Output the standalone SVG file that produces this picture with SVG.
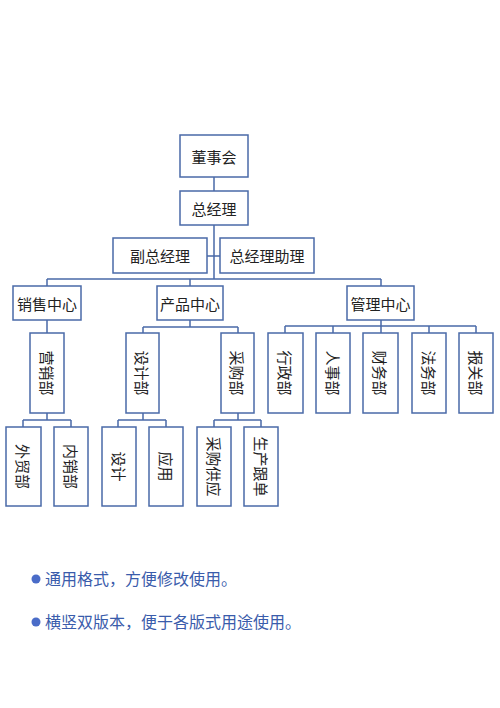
<svg xmlns="http://www.w3.org/2000/svg" width="500" height="708" viewBox="0 0 500 708">
<style>
.b{fill:#fff;stroke:#4a6aa8;stroke-width:1.5}
.t{font-family:"Noto Sans CJK SC",sans-serif;font-size:15px;fill:#222;text-anchor:middle;dominant-baseline:central}
.c{fill:none;stroke:#4a6aa8;stroke-width:1.5}
.n{font-family:"Noto Sans CJK SC",sans-serif;font-size:16px;fill:#3a5cab}
</style>
<rect width="500" height="708" fill="#fff"/>
<g id="connectors" class="c">
<path d="M214 177V191M214 225V279M207 256H220M47 279H381M47 279V286M190 279V286M381 279V286"/>
<path d="M47 320V333M47 413V420M23 420H71M23 420V427M71 420V427"/>
<path d="M190 320V327M143 327H238M143 327V333M238 327V333M143 413V420M118 420H166M118 420V427M166 420V427M238 413V420M214 420H261M214 420V427M261 420V427"/>
<path d="M381 320V326M285 326H476M285 326V333M333 326V333M381 326V333M429 326V333M476 326V333"/>
</g>
<g id="n1"><rect class="b" x="180" y="135" width="68" height="42"/><text class="t" x="214" y="156">董事会</text></g>
<g id="n2"><rect class="b" x="180" y="191" width="68" height="34"/><text class="t" x="214" y="208">总经理</text></g>
<g id="n3"><rect class="b" x="113" y="238" width="94" height="35"/><text class="t" x="160" y="255.5">副总经理</text></g>
<g id="n4"><rect class="b" x="220" y="238" width="94" height="35"/><text class="t" x="267" y="255.5">总经理助理</text></g>
<g id="n5"><rect class="b" x="13" y="286" width="68" height="34"/><text class="t" x="47" y="303">销售中心</text></g>
<g id="n6"><rect class="b" x="157" y="286" width="66" height="34"/><text class="t" x="190" y="303">产品中心</text></g>
<g id="n7"><rect class="b" x="347" y="286" width="67" height="34"/><text class="t" x="380.5" y="303">管理中心</text></g>
<g id="n8"><rect class="b" x="30" y="333" width="34" height="80"/><text class="t" transform="translate(47 373) rotate(90)">营销部</text></g>
<g id="n9"><rect class="b" x="126" y="333" width="33" height="80"/><text class="t" transform="translate(142.5 373) rotate(90)">设计部</text></g>
<g id="n10"><rect class="b" x="221" y="333" width="33" height="80"/><text class="t" transform="translate(237.5 373) rotate(90)">采购部</text></g>
<g id="n11"><rect class="b" x="268" y="333" width="35" height="80"/><text class="t" transform="translate(285.5 373) rotate(90)">行政部</text></g>
<g id="n12"><rect class="b" x="316" y="333" width="34" height="80"/><text class="t" transform="translate(333 373) rotate(90)">人事部</text></g>
<g id="n13"><rect class="b" x="363" y="333" width="35" height="80"/><text class="t" transform="translate(380.5 373) rotate(90)">财务部</text></g>
<g id="n14"><rect class="b" x="412" y="333" width="34" height="80"/><text class="t" transform="translate(429 373) rotate(90)">法务部</text></g>
<g id="n15"><rect class="b" x="459" y="333" width="34" height="80"/><text class="t" transform="translate(476 373) rotate(90)">报关部</text></g>
<g id="n16"><rect class="b" x="6" y="427" width="35" height="79"/><text class="t" transform="translate(23.5 466.5) rotate(90)">外贸部</text></g>
<g id="n17"><rect class="b" x="54" y="427" width="34" height="79"/><text class="t" transform="translate(71 466.5) rotate(90)">内销部</text></g>
<g id="n18"><rect class="b" x="102" y="427" width="34" height="79"/><text class="t" transform="translate(119 466.5) rotate(90)">设计</text></g>
<g id="n19"><rect class="b" x="149" y="427" width="34" height="79"/><text class="t" transform="translate(166 466.5) rotate(90)">应用</text></g>
<g id="n20"><rect class="b" x="197" y="427" width="34" height="79"/><text class="t" transform="translate(214 466.5) rotate(90)">采购供应</text></g>
<g id="n21"><rect class="b" x="244" y="427" width="34" height="79"/><text class="t" transform="translate(261 466.5) rotate(90)">生产跟单</text></g>
<g id="notes">
<circle cx="36" cy="579" r="4.5" fill="#4a6cc8"/>
<text class="n" x="45" y="585">通用格式，方便修改使用。</text>
<circle cx="36" cy="622" r="4.5" fill="#4a6cc8"/>
<text class="n" x="45" y="628">横竖双版本，便于各版式用途使用。</text>
</g>
</svg>
